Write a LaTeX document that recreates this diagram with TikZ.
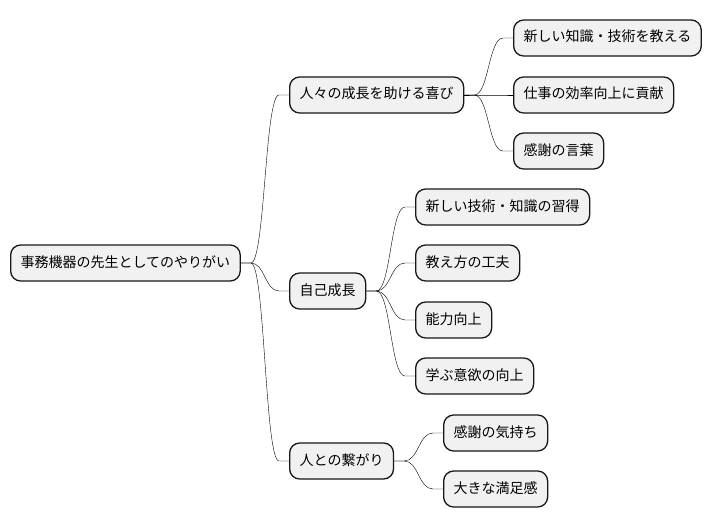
\documentclass[tikz,border=0pt]{standalone}
\usepackage{fontspec}
\setmainfont{Noto Sans CJK JP}
\usetikzlibrary{calc}
\definecolor{nodefill}{HTML}{F1F1F1}
\definecolor{nodeline}{HTML}{181818}
\tikzset{
  topic/.style={draw=nodeline, fill=nodefill, line width=1.3pt, rounded corners=10pt,
    anchor=west, minimum height=36pt, inner xsep=10pt, inner ysep=0pt,
    font=\fontsize{14pt}{16pt}\selectfont, text height=11pt, text depth=3pt},
  branch/.style={draw=nodeline, line width=1pt,
    to path={let \p1=(\tikztostart), \p2=(\tikztotarget) in
      -- (\x1+10pt,\y1) .. controls ({(\x1+\x2)/2},\y1) and ({(\x1+\x2)/2},\y2) .. (\x2-10pt,\y2) -- (\tikztotarget)}}
}
\begin{document}
\begin{tikzpicture}[x=1pt,y=-1pt]
\useasboundingbox[fill=white] (0,0) rectangle (712,527);
\node[topic] (root) at (10,263) {事務機器の先生としてのやりがい};
\node[topic] (a) at (289,95) {人々の成長を助ける喜び};
\node[topic] (b) at (289,291) {自己成長};
\node[topic] (c) at (289,461) {人との繋がり};
\node[topic] (a1) at (513,38) {新しい知識・技術を教える};
\node[topic] (a2) at (513,95) {仕事の効率向上に貢献};
\node[topic] (a3) at (513,151) {感謝の言葉};
\node[topic] (b1) at (415,207) {新しい技術・知識の習得};
\node[topic] (b2) at (415,263) {教え方の工夫};
\node[topic] (b3) at (415,320) {能力向上};
\node[topic] (b4) at (415,376) {学ぶ意欲の向上};
\node[topic] (c1) at (443,433) {感謝の気持ち};
\node[topic] (c2) at (443,489) {大きな満足感};
\foreach \p/\q in {root/a,root/b,root/c,a/a1,a/a2,a/a3,b/b1,b/b2,b/b3,b/b4,c/c1,c/c2}
  \draw (\p.east) to[branch] (\q.west);
\end{tikzpicture}
\end{document}
